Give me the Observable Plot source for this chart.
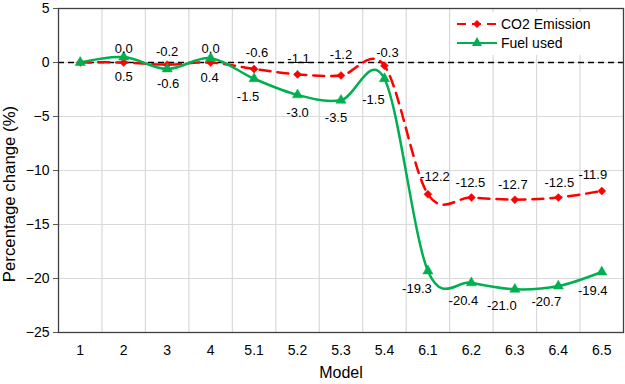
<!DOCTYPE html>
<html>
<head>
<meta charset="utf-8">
<script src="https://cdn.jsdelivr.net/npm/d3@7"></script>
<script src="https://cdn.jsdelivr.net/npm/@observablehq/plot@0.6"></script>
<style>
  html, body { margin: 0; padding: 0; background: #fff; }
  svg { font-family: "Liberation Sans", Arial, sans-serif; }
</style>
</head>
<body>
<div id="chart"></div>
<script>
const models = ["1", "2", "3", "4", "5.1", "5.2", "5.3", "5.4", "6.1", "6.2", "6.3", "6.4", "6.5"];
const co2Emission = [0, 0.0, -0.2, 0.0, -0.6, -1.1, -1.2, -0.3, -12.2, -12.5, -12.7, -12.5, -11.9];
const fuelUsed = [0, 0.5, -0.6, 0.4, -1.5, -3.0, -3.5, -1.5, -19.3, -20.4, -21.0, -20.7, -19.4];
const yTicks = [5, 0, -5, -10, -15, -20, -25];
const seriesNames = ["CO2 Emission", "Fuel used"];

const co2 = models.map((m, i) => ({i, model: m, value: co2Emission[i]}));
const fuel = models.map((m, i) => ({i, model: m, value: fuelUsed[i]}));
const bounds = d3.range(1, models.length).map(i => i - 0.5);

const RED = "#ff0000", GREEN = "#00b050";

// label nudges (layout only): [dx, dy] per category index
const co2Nudge = [null, [0,-14], [0,-13], [0,-14], [3,-16], [1,-16], [0,-21], [3,-13], [7,-17], [-1,-15], [-2,-15], [1,-15], [-9,-16]];
const fuelNudge = [null, [0,20], [1,15], [-1,20], [-6,18], [0,18], [-5,18], [-11,21], [-11,18], [-8,18], [-13,17], [-12,16], [-9,19]];

function labels(rows, nudge) {
  return rows.filter(d => nudge[d.i]).map(d =>
    Plot.text([d], {x: "i", y: "value", text: r => r.value.toFixed(1), dx: nudge[d.i][0], dy: nudge[d.i][1], fontSize: 13, fill: "#000"})
  );
}

const plot = Plot.plot({
  width: 625,
  height: 384,
  marginLeft: 58,
  marginRight: 2,
  marginTop: 8,
  marginBottom: 52,
  style: {fontFamily: "Liberation Sans, Arial, sans-serif", fontSize: "14px", color: "#000", background: "#fff"},
  x: {type: "linear", domain: [-0.5, models.length - 0.5]},
  y: {domain: [-25, 5]},
  marks: [
    Plot.ruleY(yTicks, {stroke: "#d9d9d9", strokeWidth: 1.2}),
    Plot.ruleX(bounds, {stroke: "#d9d9d9", strokeWidth: 1.2}),
    Plot.ruleY([0], {stroke: "#000", strokeWidth: 1.5, strokeDasharray: "6,4"}),
    Plot.axisX(d3.range(models.length), {tickSize: 0, tickPadding: 13, tickFormat: i => models[i], fontSize: 14, label: null}),
    Plot.axisY(yTicks, {tickSize: 5, tickPadding: 4, fontSize: 14, label: null, stroke: "#595959"}),
    Plot.line(co2, {x: "i", y: "value", stroke: RED, strokeWidth: 2.5, strokeDasharray: "11,7", curve: "cardinal"}),
    Plot.line(fuel, {x: "i", y: "value", stroke: GREEN, strokeWidth: 2.5, curve: "cardinal"}),
    Plot.dot(co2, {x: "i", y: "value", symbol: "diamond2", r: 3.6, fill: RED, stroke: RED, strokeWidth: 0.5}),
    Plot.dot(fuel, {x: "i", y: "value", symbol: "triangle", r: 3.8, fill: GREEN, stroke: GREEN, strokeWidth: 0.5}),
    ...labels(co2, co2Nudge),
    ...labels(fuel, fuelNudge),
    Plot.frame({stroke: "#404040", strokeWidth: 1.3})
  ]
});

document.getElementById("chart").appendChild(plot);

const svg = d3.select(plot);
// axis titles
svg.append("text").attr("x", 341).attr("y", 378).attr("text-anchor", "middle")
  .attr("font-size", 16).attr("fill", "#000").text("Model");
svg.append("text").attr("transform", "translate(15,194) rotate(-90)").attr("text-anchor", "middle")
  .attr("font-size", 16.8).attr("fill", "#000").text("Percentage change (%)");

// legend
const lg = svg.append("g");
lg.append("rect").attr("x", 454).attr("y", 12).attr("width", 164).attr("height", 43).attr("fill", "#fff");
const items = [
  {name: seriesNames[0], color: RED, dash: "9,6", sym: d3.symbolDiamond2, y: 24},
  {name: seriesNames[1], color: GREEN, dash: null, sym: d3.symbolTriangle, y: 43}
];
items.forEach(it => {
  lg.append("line").attr("x1", 457).attr("x2", 497).attr("y1", it.y).attr("y2", it.y)
    .attr("stroke", it.color).attr("stroke-width", 2.2).attr("stroke-dasharray", it.dash);
  lg.append("path").attr("d", d3.symbol(it.sym, it.sym === d3.symbolTriangle ? 45 : 42)())
    .attr("transform", `translate(477,${it.y})`).attr("fill", it.color);
  lg.append("text").attr("x", 501).attr("y", it.y).attr("dy", "0.35em").attr("font-size", 14)
    .attr("text-anchor", "start").attr("fill", "#000").text(it.name);
});
</script>
</body>
</html>
